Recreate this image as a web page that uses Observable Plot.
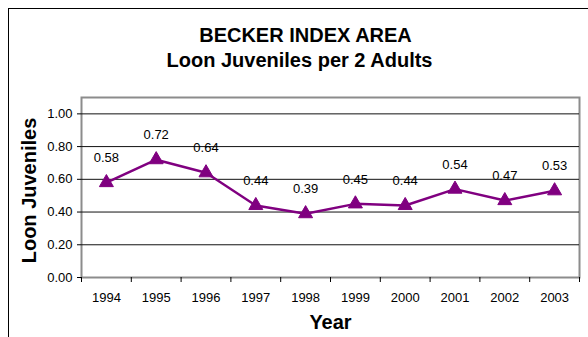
<!DOCTYPE html>
<html>
<head>
<meta charset="utf-8">
<script src="https://cdn.jsdelivr.net/npm/d3@7"></script>
<script src="https://cdn.jsdelivr.net/npm/@observablehq/plot@0.6"></script>
<style>
  html, body { margin: 0; padding: 0; background: #fff; }
  #wrap { position: relative; width: 588px; height: 337px; overflow: hidden; }
  #edge { position: absolute; left: 8px; top: 8px; width: 700px; height: 500px;
          border-left: 1.5px solid #000; border-top: 1.5px solid #000; }
  #chart { position: absolute; left: 0; top: 0; }
</style>
</head>
<body>
<div id="wrap"><div id="edge"></div><div id="chart"></div></div>
<script>
// Becker index area: loon juveniles per pair of adults
const years = [1994, 1995, 1996, 1997, 1998, 1999, 2000, 2001, 2002, 2003];
const juvenilesPerPair = [0.58, 0.72, 0.64, 0.44, 0.39, 0.45, 0.44, 0.54, 0.47, 0.53];
const yTicks = [0, 0.2, 0.4, 0.6, 0.8, 1.0];
const gridValues = [0.2, 0.4, 0.6, 0.8, 1.0];
const titleLines = ["BECKER INDEX AREA", "Loon Juveniles per 2 Adults"];
const yLabel = "Loon Juveniles";
const xLabel = "Year";

const rows = years.map((year, i) => ({year, value: juvenilesPerPair[i]}));
const xDomain = [years[0] - 0.5, years[years.length - 1] + 0.5];
const bandEdges = d3.range(xDomain[0], xDomain[1] + 0.01, 1);
const purple = "#800080";
const bold = {fontSize: 20, fontWeight: "bold", fill: "#000", lineAnchor: "bottom", textAnchor: "middle"};

const chart = Plot.plot({
  width: 588,
  height: 337,
  marginLeft: 81,
  marginRight: 9,
  marginTop: 97,
  marginBottom: 60,
  style: {fontFamily: "'Liberation Sans', Arial, sans-serif", fontSize: "13px", background: "transparent"},
  x: {type: "linear", domain: xDomain},
  y: {domain: [0, 1.1]},
  marks: [
    Plot.frame({stroke: "#8c8c8c", strokeWidth: 2}),
    Plot.gridY(gridValues, {stroke: "#111", strokeOpacity: 1, strokeWidth: 1}),
    Plot.axisY({ticks: yTicks, tickFormat: d3.format(".2f"), tickSize: 4, tickPadding: 5,
                fontSize: 13, label: null, line: true, stroke: "#000"}),
    Plot.axisX({ticks: bandEdges, tickFormat: () => "", tickSize: 5, label: null, line: true, stroke: "#000"}),
    Plot.axisX({ticks: years, tickFormat: d => String(d), tickSize: 0, tickPadding: 15,
                fontSize: 13, label: null}),
    Plot.lineY(rows, {x: "year", y: "value", stroke: purple, strokeWidth: 2.5}),
    Plot.dot(rows, {x: "year", y: "value", symbol: "triangle", r: 5.2, fill: purple, stroke: purple, strokeWidth: 1}),
    Plot.text(rows, {x: "year", y: "value", text: d => d.value.toFixed(2), dy: -24.5,
                     fontSize: 13, fill: "#000"}),
    Plot.text([titleLines[0]], {...bold, frameAnchor: "top", dx: -25, dy: -55.5}),
    Plot.text([titleLines[1]], {...bold, frameAnchor: "top", dx: -31, dy: -30.5}),
    Plot.text([yLabel], {...bold, frameAnchor: "left", dx: -46, dy: 3, rotate: -90}),
    Plot.text([xLabel], {...bold, frameAnchor: "bottom", dy: 51})
  ]
});
document.getElementById("chart").appendChild(chart);
</script>
</body>
</html>
